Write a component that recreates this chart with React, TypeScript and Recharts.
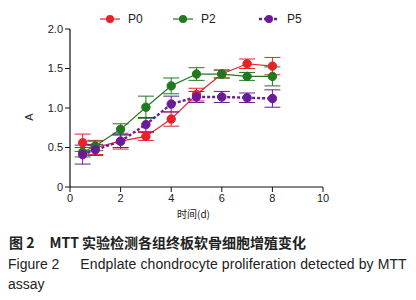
import React from 'react';
import { LineChart, Line, XAxis, YAxis, ErrorBar, Label } from 'recharts';

const days = [0.5, 1, 2, 3, 4, 5, 6, 7, 8];
const seriesNames = ['P0', 'P2', 'P5'];
const p0 = [0.56, 0.5, 0.58, 0.64, 0.86, 1.17, 1.43, 1.56, 1.53];
const p0Err = [0.11, 0.09, 0.1, 0.05, 0.09, 0.08, 0.05, 0.06, 0.11];
const p2 = [0.44, 0.52, 0.73, 1.01, 1.28, 1.43, 1.43, 1.4, 1.4];
const p2Err = [0.06, 0.06, 0.07, 0.14, 0.1, 0.08, 0.05, 0.05, 0.12];
const p5 = [0.41, 0.47, 0.58, 0.79, 1.05, 1.14, 1.14, 1.13, 1.12];
const p5Err = [0.12, 0.07, 0.08, 0.09, 0.1, 0.07, 0.07, 0.06, 0.11];
const xTicks = [0, 2, 4, 6, 8, 10];
const yTicks = [0, 0.5, 1, 1.5, 2];

const colors: Record<string, string> = { P0: '#e8212b', P2: '#1f7a1f', P5: '#6a1a9a' };
const dashes: Record<string, string | undefined> = { P0: undefined, P2: undefined, P5: '3 2' };
const widths: Record<string, number> = { P0: 1.2, P2: 1.2, P5: 2.4 };

const data = days.map((d, i) => ({
  day: d,
  P0: p0[i],
  P0err: p0Err[i],
  P2: p2[i],
  P2err: p2Err[i],
  P5: p5[i],
  P5err: p5Err[i],
}));

const tick = { fill: '#222', fontSize: 11, fontFamily: '"Liberation Sans", Arial, sans-serif' };
const legendX = [110, 183, 269];

export default function App() {
  return (
    <div style={{ position: 'absolute', left: 0, top: 0, width: 416, height: 300, background: '#fff' }}>
      <LineChart width={416} height={225} data={data} margin={{ top: 29, right: 93, left: 0, bottom: 6 }}>
        <XAxis
          dataKey="day"
          type="number"
          domain={[0, 10]}
          ticks={xTicks}
          tick={tick}
          tickSize={5}
          height={32}
          axisLine={{ stroke: '#111', strokeWidth: 1.2 }}
          tickLine={{ stroke: '#111' }}
        >
          <Label
            value="时间(d)"
            position="insideBottom"
            offset={1}
            dx={-3}
            style={{ fill: '#222', fontSize: 10, fontFamily: '"Noto Sans CJK SC", sans-serif' }}
          />
        </XAxis>
        <YAxis
          type="number"
          domain={[0, 2]}
          ticks={yTicks}
          tick={tick}
          tickFormatter={(v: number) => (v === 0 ? '0' : v.toFixed(1))}
          tickSize={5}
          width={70}
          axisLine={{ stroke: '#111', strokeWidth: 1.2 }}
          tickLine={{ stroke: '#111' }}
        >
          <Label
            content={({ viewBox }: any) => {
              const cy = viewBox.y + viewBox.height / 2 + 9;
              const cx = viewBox.x + 30;
              return (
                <text
                  x={cx}
                  y={cy}
                  transform={`rotate(-90, ${cx}, ${cy})`}
                  textAnchor="middle"
                  dominantBaseline="middle"
                  style={{ fill: '#222', fontSize: 11, fontFamily: '"Liberation Sans", Arial, sans-serif' }}
                >
                  A
                </text>
              );
            }}
          />
        </YAxis>
        {seriesNames.map((name) => (
          <Line
            key={name}
            dataKey={name}
            stroke={colors[name]}
            strokeWidth={widths[name]}
            strokeDasharray={dashes[name]}
            dot={{ r: 4.2, fill: colors[name], stroke: colors[name], strokeWidth: 1, strokeDasharray: '' }}
            isAnimationActive={false}
          >
            <ErrorBar dataKey={`${name}err`} width={8} stroke={colors[name]} strokeWidth={1} direction="y" />
          </Line>
        ))}
      </LineChart>
      {seriesNames.map((name, i) => (
        <div key={name} style={{ position: 'absolute', top: 10, left: legendX[i] - 11, height: 18, display: 'flex', alignItems: 'center' }}>
          <svg width={22} height={18}>
            <line x1={1} y1={9} x2={21} y2={9} stroke={colors[name]} strokeWidth={widths[name]} strokeDasharray={dashes[name]} />
            <circle cx={11} cy={9} r={4} fill={colors[name]} />
          </svg>
          <span style={{ marginLeft: 7, fontSize: 12, color: '#222', fontFamily: '"Liberation Sans", Arial, sans-serif' }}>{name}</span>
        </div>
      ))}
      <div style={{ position: 'absolute', left: 9, top: 232, fontSize: 14, lineHeight: '20px', color: '#222', fontFamily: '"Noto Sans CJK SC", sans-serif', whiteSpace: 'pre', fontWeight: 700 }}>
        <span>图 2</span>
        <span style={{ marginLeft: 15 }}>MTT </span>
        <span>实验检测各组终板软骨细胞增殖变化</span>
      </div>
      <div style={{ position: 'absolute', left: 8, top: 254, fontSize: 14, color: '#222', fontFamily: '"Liberation Sans", Arial, sans-serif', whiteSpace: 'pre', lineHeight: '20px' }}>
        <span>Figure 2</span>
        <span style={{ marginLeft: 21, letterSpacing: 0.1 }}>Endplate chondrocyte proliferation detected by MTT</span>
        {'\nassay'}
      </div>
    </div>
  );
}
